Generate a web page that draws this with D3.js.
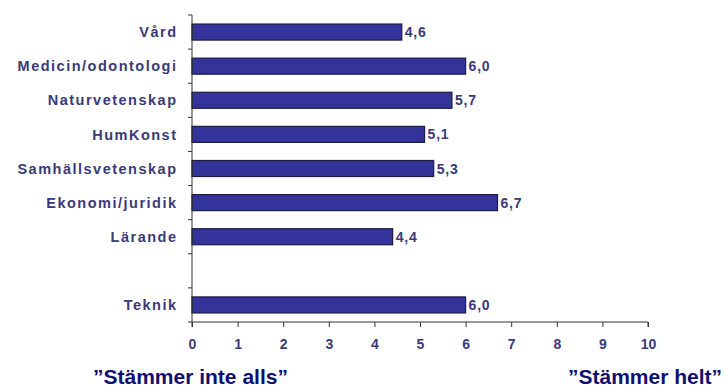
<!DOCTYPE html>
<html><head><meta charset="utf-8">
<script src="https://cdn.jsdelivr.net/npm/d3@7"></script>
<style>
html,body{margin:0;padding:0;background:#fff;}
svg{display:block;}
</style></head>
<body>
<svg id="chart" width="726" height="387"></svg>
<script>
const categories = ["Vård","Medicin/odontologi","Naturvetenskap","HumKonst","Samhällsvetenskap","Ekonomi/juridik","Lärande","","Teknik"];
const values = [4.6, 6.0, 5.7, 5.1, 5.3, 6.7, 4.4, null, 6.0];
const valueLabels = ["4,6","6,0","5,7","5,1","5,3","6,7","4,4","","6,0"];
const xTicks = [0,1,2,3,4,5,6,7,8,9,10];
const leftNote = "\u201DStämmer inte alls\u201D";
const rightNote = "\u201DStämmer helt\u201D";

const svg = d3.select("#chart");
const x0 = 192, x1 = 648, yTop = 15, yBot = 322;
const x = d3.scaleLinear().domain([0,10]).range([x0,x1]);
const y = d3.scaleBand().domain(categories.map((c,i)=>i)).range([yTop,yBot]).paddingInner(0.53).paddingOuter(0.265);
const labelColor = "#3a3a78";
const font = "'Liberation Sans', Arial, sans-serif";

// bars
svg.append("g").selectAll("rect").data(values.map((v,i)=>({v,i})).filter(d=>d.v!=null))
  .join("rect")
  .attr("x", x(0))
  .attr("y", d=>y(d.i))
  .attr("width", d=>x(d.v)-x(0))
  .attr("height", y.bandwidth())
  .attr("fill","#333399")
  .attr("stroke","#1c1c44")
  .attr("stroke-width",1.2);

// value labels
svg.append("g").selectAll("text").data(values.map((v,i)=>({v,i})).filter(d=>d.v!=null))
  .join("text")
  .attr("x", d=>x(d.v)+3)
  .attr("y", d=>y(d.i)+y.bandwidth()/2)
  .attr("dy","0.36em")
  .attr("font-family",font).attr("font-weight","bold").attr("font-size",14)
  .attr("letter-spacing","0.8px")
  .attr("fill",labelColor)
  .text(d=>valueLabels[d.i]);

// y axis line and ticks (between categories)
const gy = svg.append("g");
gy.append("line").attr("x1",x0).attr("x2",x0).attr("y1",yTop).attr("y2",yBot).attr("stroke","#333").attr("stroke-width",1);
const step = (yBot-yTop)/categories.length;
gy.selectAll("line.t").data(d3.range(categories.length+1)).join("line").attr("class","t")
  .attr("x1",x0-4).attr("x2",x0).attr("y1",i=>yTop+i*step).attr("y2",i=>yTop+i*step)
  .attr("stroke","#333").attr("stroke-width",1);

// category labels
gy.selectAll("text").data(categories.map((c,i)=>({c,i})))
  .join("text")
  .attr("x",177.5)
  .attr("y",d=>y(d.i)+y.bandwidth()/2)
  .attr("dy","0.36em")
  .attr("text-anchor","end")
  .attr("font-family",font).attr("font-weight","bold").attr("font-size",14.5)
  .attr("letter-spacing","1.5px")
  .attr("fill",labelColor)
  .text(d=>d.c);

// x axis
const xAxis = d3.axisBottom(x).tickValues(xTicks).tickSize(5).tickFormat(d3.format("d"));
const gx = svg.append("g").attr("transform",`translate(0,${yBot})`).call(xAxis);
gx.select(".domain").attr("stroke","#333").attr("d",`M${x0},5V0H${x1}V5`);
gx.selectAll(".tick line").attr("stroke","#333");
gx.selectAll(".tick text").attr("font-family",font).attr("font-weight","bold").attr("font-size",14)
  .attr("fill",labelColor).attr("y",17);

// bottom notes
svg.append("text").attr("x",93).attr("y",384).attr("font-family",font).attr("font-weight","bold")
  .attr("font-size",21).attr("fill","#101070").text(leftNote);
svg.append("text").attr("x",722).attr("y",384).attr("text-anchor","end").attr("font-family",font).attr("font-weight","bold")
  .attr("font-size",21).attr("fill","#101070").text(rightNote);
</script>
</body></html>
